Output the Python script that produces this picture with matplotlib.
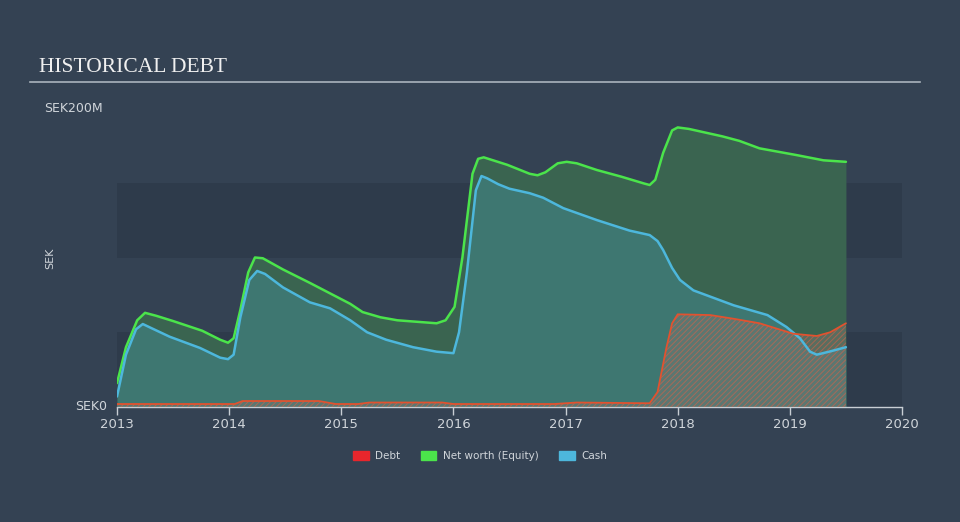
import numpy as np
import matplotlib.pyplot as plt

# ---
# Data (SEK millions)
# ---

equity_t = [2013.0, 2013.08, 2013.18, 2013.25, 2013.35, 2013.5, 2013.76, 2013.92, 2013.99, 2014.04,
            2014.1, 2014.17, 2014.23, 2014.3, 2014.48, 2014.72, 2014.9, 2015.08, 2015.19, 2015.35,
            2015.5, 2015.85, 2015.93, 2016.01, 2016.08, 2016.17, 2016.22, 2016.27, 2016.48, 2016.68,
            2016.75, 2016.82, 2016.93, 2017.01, 2017.1, 2017.28, 2017.5, 2017.7, 2017.75, 2017.8,
            2017.87, 2017.95, 2018.0, 2018.1, 2018.4, 2018.55, 2018.73, 2019.06, 2019.3, 2019.5]
equity_v = [16, 40, 58, 63, 61, 57.5, 51, 45, 43, 46,
            65, 90, 100, 99.5, 92, 83, 76, 69, 63.5, 60,
            58, 56, 58, 67, 100, 156, 166, 167, 162, 156,
            155, 157, 163, 164, 163, 158.5, 154, 149.5, 148.5, 152,
            170, 185, 187, 186, 181, 178, 173, 168.5, 165, 164]

cash_t = [2013.0, 2013.08, 2013.17, 2013.23, 2013.3, 2013.47, 2013.74, 2013.92, 2013.99, 2014.04,
          2014.1, 2014.18, 2014.25, 2014.32, 2014.48, 2014.72, 2014.9, 2015.08, 2015.23, 2015.4,
          2015.64, 2015.85, 2016.0, 2016.05, 2016.12, 2016.2, 2016.25, 2016.3, 2016.4, 2016.5,
          2016.68, 2016.8, 2016.98, 2017.28, 2017.57, 2017.75, 2017.82, 2017.87, 2017.95, 2018.02,
          2018.14, 2018.5, 2018.8, 2018.97, 2019.09, 2019.18, 2019.24, 2019.35, 2019.5]
cash_v = [7, 35, 52, 55.5, 53, 47, 39.5, 33, 32, 35,
          60, 85, 91, 89, 80, 70, 66, 58, 50, 45,
          40, 37, 36, 50, 90, 145, 154.5, 153, 149, 146,
          143, 140, 133, 125, 118, 115, 111, 105, 93, 85,
          78, 68, 61.5, 53.5, 46, 37, 35, 37, 40]

debt_t = [2013.0, 2014.05, 2014.12, 2014.8, 2014.95, 2015.15, 2015.25, 2015.9, 2016.0, 2016.9,
          2017.1, 2017.75, 2017.82, 2017.9, 2017.95, 2018.0, 2018.29, 2018.5, 2018.73, 2019.03,
          2019.24, 2019.36, 2019.5]
debt_v = [2, 2, 4, 4, 2, 2, 3, 3, 2, 2,
          3, 2.5, 10, 40, 56, 62, 61.5, 59, 56, 49,
          47.5, 50, 56]

years = [2013, 2014, 2015, 2016, 2017, 2018, 2019, 2020]
y_labels = ["SEK0", "SEK200M"]

# ---
# Colours
# ---

bg = "#344253"
band = "#2e3b4b"
green = "#4be44b"
blue = "#4db7dc"
red = "#e2522f"
text_col = "#d0d5da"

plt.rcParams["hatch.linewidth"] = 0.7

fig = plt.figure(figsize=(9.6, 5.22), dpi=100, facecolor=bg)
ax = fig.add_axes([117 / 960, 115 / 522, 785 / 960, 299 / 522])
ax.set_facecolor(bg)
ax.set_xlim(2013, 2020)
ax.set_ylim(0, 200)

# alternating background bands
for lo, hi in [(0, 50), (100, 150)]:
    ax.axhspan(lo, hi, color=band, lw=0, zorder=0)

# ---
# Areas and lines
# ---

ax.fill_between(equity_t, equity_v, color="#3a6450", lw=0, zorder=1)
ax.fill_between(cash_t, cash_v, color="#3e7771", lw=0, zorder=2)
ax.fill_between(debt_t, debt_v, facecolor=(0.5, 0.47, 0.45, 0.45), edgecolor=(0.85, 0.38, 0.28, 0.6),
                hatch="//////", lw=0, zorder=3)

line_kw = dict(solid_joinstyle="round", solid_capstyle="round")
ax.plot(equity_t, equity_v, color=green, lw=1.8, zorder=4, **line_kw)
ax.plot(cash_t, cash_v, color=blue, lw=1.8, zorder=5, **line_kw)
ax.plot(debt_t, debt_v, color=red, lw=1.3, zorder=6, **line_kw)

# ---
# Axes styling
# ---

for s in ["top", "right", "left"]:
    ax.spines[s].set_visible(False)
ax.spines["bottom"].set_color("#c8ced4")
ax.spines["bottom"].set_linewidth(1)

ax.set_xticks(years)
ax.set_xticklabels([str(y) for y in years])
ax.tick_params(axis="x", colors="#c8ced4", labelcolor=text_col, labelsize=9.5, length=6, width=1, pad=2)
ax.set_yticks([])

ax.text(-0.012, 0, y_labels[0], transform=ax.transAxes, ha="right", va="center",
        color=text_col, fontsize=9)
ax.text(-0.018, 1.0, y_labels[1], transform=ax.transAxes, ha="right", va="center",
        color=text_col, fontsize=9)
fig.text(50 / 960, 1 - 258 / 522, "SEK", rotation=90, ha="center", va="center",
         color=text_col, fontsize=8)

# title + rule
fig.text(39 / 960, 1 - 67 / 522, "HISTORICAL DEBT", family="Liberation Serif",
         color="#f0f0f0", fontsize=15.5, va="center", ha="left")
fig.add_artist(plt.Line2D([30 / 960, 920 / 960], [1 - 82 / 522, 1 - 82 / 522],
                          color="#aab4bd", lw=1.2))

# legend
handles = [plt.Rectangle((0, 0), 1, 1, color=c) for c in ["#e8262c", "#4be44b", "#4db7dc"]]
leg = fig.legend(handles, ["Debt", "Net worth (Equity)", "Cash"], loc="center",
                 bbox_to_anchor=(480 / 960, 1 - 456 / 522), ncol=3, frameon=False,
                 fontsize=7.5, handlelength=1.5, handleheight=1.0, columnspacing=2.0,
                 handletextpad=0.6)
for t in leg.get_texts():
    t.set_color(text_col)

fig.savefig("out.png", dpi=100, facecolor=bg)
